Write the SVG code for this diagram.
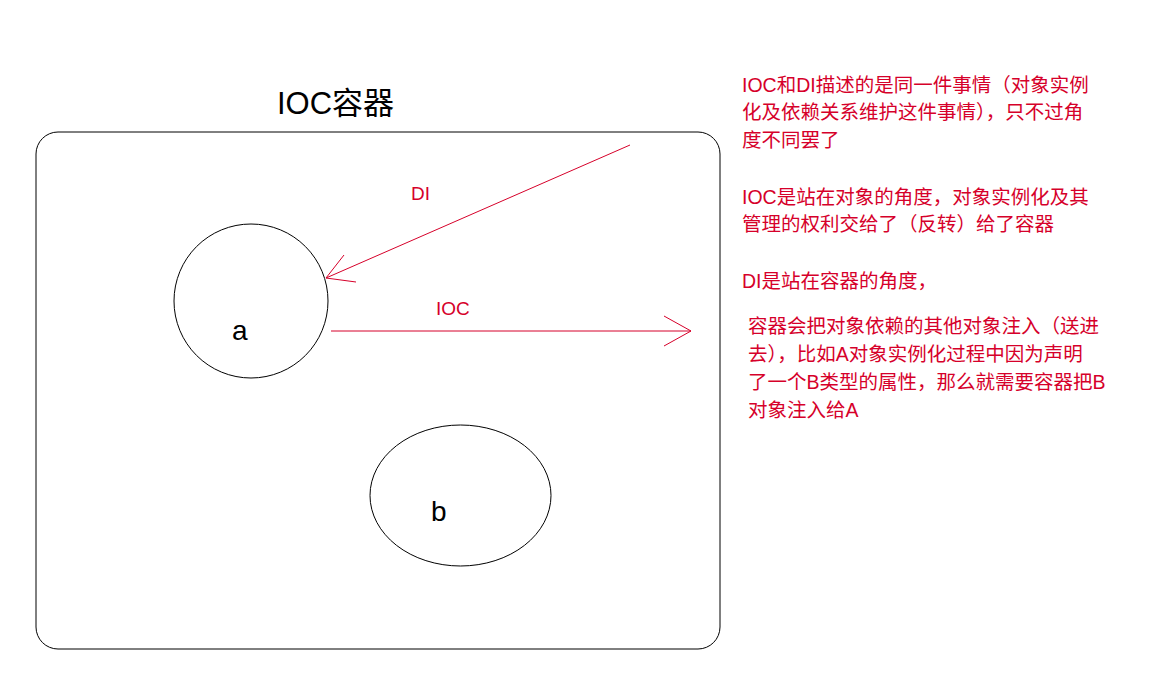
<svg xmlns="http://www.w3.org/2000/svg" width="1158" height="676" viewBox="0 0 1158 676">
<style>
.shape{fill:none;stroke:#000;stroke-width:1}
.conn{fill:none;stroke:#d6002a;stroke-width:1}
.red{fill:#d6002a;font-family:"Liberation Sans","Noto Sans CJK SC",sans-serif;font-size:19.5px}
.lbl{fill:#d6002a;font-family:"Liberation Sans",sans-serif;font-size:19px}
.blk{fill:#000;font-family:"Liberation Sans","Noto Sans CJK SC",sans-serif}
</style>
<rect width="1158" height="676" fill="#fff"/>
<g id="container">
<rect class="shape" x="36" y="132" width="684" height="517" rx="22" ry="22"/>
<text class="blk" x="277" y="114" font-size="31">IOC容器</text>
</g>
<g id="node-a">
<ellipse class="shape" cx="251" cy="301" rx="77" ry="77"/>
<text class="blk" x="232" y="340" font-size="28">a</text>
</g>
<g id="node-b">
<ellipse class="shape" cx="460.5" cy="495.5" rx="90.5" ry="70.5"/>
<text class="blk" x="431" y="521" font-size="28">b</text>
</g>
<g id="connectors">
<path class="conn" d="M630 145 L326 278 M344 255 L326 278 L356 282"/>
<text class="lbl" x="411" y="200">DI</text>
<path class="conn" d="M331 331 L691 331 M664 316 L691 331 L664 346"/>
<text class="lbl" x="436" y="315">IOC</text>
</g>
<g id="notes">
<text class="red" x="742" y="92">IOC和DI描述的是同一件事情（对象实例</text>
<text class="red" x="742" y="119">化及依赖关系维护这件事情），只不过角</text>
<text class="red" x="742" y="147">度不同罢了</text>
<text class="red" x="742" y="204">IOC是站在对象的角度，对象实例化及其</text>
<text class="red" x="742" y="231">管理的权利交给了（反转）给了容器</text>
<text class="red" x="742" y="288">DI是站在容器的角度，</text>
<text class="red" x="748" y="333">容器会把对象依赖的其他对象注入（送进</text>
<text class="red" x="748" y="361">去），比如A对象实例化过程中因为声明</text>
<text class="red" x="748" y="389">了一个B类型的属性，那么就需要容器把B</text>
<text class="red" x="748" y="417">对象注入给A</text>
</g>
</svg>
